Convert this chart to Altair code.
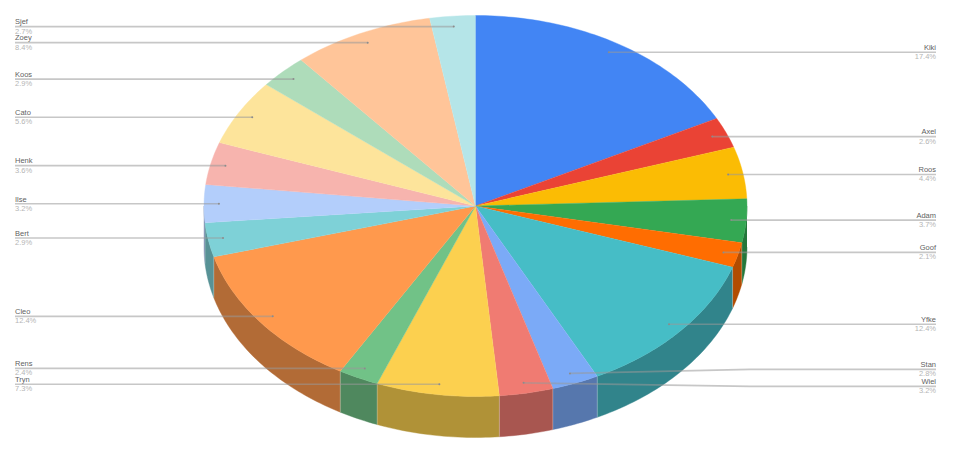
import math
import altair as alt
import pandas as pd

names = ["Kiki", "Axel", "Roos", "Adam", "Goof", "Yfke", "Stan", "Wiel", "Tryn",
         "Rens", "Cleo", "Bert", "Ilse", "Henk", "Cato", "Koos", "Zoey", "Sjef"]
shares = [17.4, 2.6, 4.4, 3.7, 2.1, 12.4, 2.8, 3.2, 7.3,
          2.4, 12.4, 2.9, 3.2, 3.6, 5.6, 2.9, 8.4, 2.7]
colors = ["#4285F4", "#EA4335", "#FBBC04", "#34A853", "#FF6D01", "#46BDC6",
          "#7BAAF7", "#F07B72", "#FCD04F", "#71C287", "#FF994D", "#7ED1D7",
          "#B3CEFB", "#F7B4AE", "#FDE49B", "#AEDCBA", "#FFC599", "#B5E5E8"]
label_shift = {"Stan": -4.0, "Wiel": 3.5}

W, H = 940, 439
CX, CY, RX, RY = 467.5, 198.0, 271.5, 190.5
DEPTH = 41 / RY
DOT = 0.945
LEFT_PX, RIGHT_PX, ELBOW_L, ELBOW_R = 7, 928, 191, 742


def darken(c, f=0.7):
    r, g, b = (int(c[i:i + 2], 16) for i in (1, 3, 5))
    return "#%02x%02x%02x" % (round(r * f), round(g * f), round(b * f))


def arc(a1, a2):
    n = max(2, int((a2 - a1) / 1.0) + 2)
    return [a1 + (a2 - a1) * k / (n - 1) for k in range(n)]


tops, walls, edges, leaders, labels = [], [], [], [], []
start = 0.0
total = sum(shares)
for name, share, col in zip(names, shares, colors):
    a1 = start / total * 360
    a2 = (start + share) / total * 360
    mid = math.radians((a1 + a2) / 2)
    start += share

    pts = [(0.0, 0.0)] + [(math.sin(math.radians(a)), math.cos(math.radians(a))) for a in arc(a1, a2)]
    for i, (x, y) in enumerate(pts):
        tops.append(dict(name=name, i=i, x=x, y=y, col=col))

    w1, w2 = max(a1, 90.0), min(a2, 270.0)
    if w2 > w1:
        ring = [(math.sin(math.radians(a)), math.cos(math.radians(a))) for a in arc(w1, w2)]
        poly = ring + [(x, y - DEPTH) for x, y in reversed(ring)]
        for i, (x, y) in enumerate(poly):
            walls.append(dict(name=name, i=i, x=x, y=y, col=darken(col)))
        if w1 == a1:
            x, y = ring[0]
            edges.append(dict(name=name, i=0, x=x, y=y))
            edges.append(dict(name=name, i=1, x=x, y=y - DEPTH))

    dx, dy = DOT * math.sin(mid), DOT * math.cos(mid)
    right = dx > 0
    out_y = dy - label_shift.get(name, 0.0) / RY
    end_px = RIGHT_PX if right else LEFT_PX
    elbow_px = ELBOW_R if right else ELBOW_L
    path = [((end_px - CX) / RX, out_y), ((elbow_px - CX) / RX, out_y), (dx, dy)]
    for i, (x, y) in enumerate(path):
        leaders.append(dict(name=name, i=i, x=x, y=y))
    labels.append(dict(name=name, pct=f"{share:.1f}%", dx=dx, dy=dy, y=out_y,
                       lx=end_px, side="right" if right else "left"))

x_scale = alt.Scale(domain=[-CX / RX, (W - CX) / RX], nice=False, zero=False)
y_scale = alt.Scale(domain=[(CY - H) / RY, CY / RY], nice=False, zero=False)
X = alt.X("x:Q", scale=x_scale, axis=None)
Y = alt.Y("y:Q", scale=y_scale, axis=None)


def shape(rows):
    return alt.Chart(pd.DataFrame(rows)).mark_line(strokeWidth=0.4, interpolate="linear").encode(
        x=X, y=Y, order=alt.Order("i:Q"), detail="name:N",
        fill=alt.Fill("col:N", scale=None), stroke=alt.Stroke("col:N", scale=None),
    )


wall_layer = shape(walls)
edge_layer = alt.Chart(pd.DataFrame(edges)).mark_line(
    stroke="#ffffff", strokeWidth=0.8, opacity=0.3
).encode(x=X, y=Y, order=alt.Order("i:Q"), detail="name:N")
top_layer = shape(tops)
leader_layer = alt.Chart(pd.DataFrame(leaders)).mark_line(
    stroke="#999999", strokeWidth=1.6, opacity=0.55
).encode(x=X, y=Y, order=alt.Order("i:Q"), detail="name:N")

lab = pd.DataFrame(labels)
dot_layer = alt.Chart(lab).mark_circle(size=4, color="#8c8c8c", opacity=1).encode(
    x=alt.X("dx:Q", scale=x_scale, axis=None), y=alt.Y("dy:Q", scale=y_scale, axis=None)
)


def text_layer(frame, side, field, color, dy):
    return alt.Chart(frame[frame.side == side]).mark_text(
        align=side, baseline="alphabetic", font="Liberation Sans", fontSize=7.5, color=color, dy=dy
    ).encode(x=alt.X("lx:Q", scale=None, axis=None), y=alt.Y("y:Q", scale=y_scale, axis=None),
             text=f"{field}:N")


texts = [text_layer(lab, s, f, c, d) for s in ("left", "right")
         for f, c, d in (("name", "#5f5f5f", -2.2), ("pct", "#b5b5b5", 7.0))]

chart = alt.layer(wall_layer, edge_layer, top_layer, leader_layer, dot_layer, *texts).properties(
    width=W, height=H, padding=0, autosize=alt.AutoSizeParams(type="none"),
    background="#ffffff",
).configure_view(stroke=None)

chart.save("out.html", embed_options={"renderer": "svg", "actions": False})
